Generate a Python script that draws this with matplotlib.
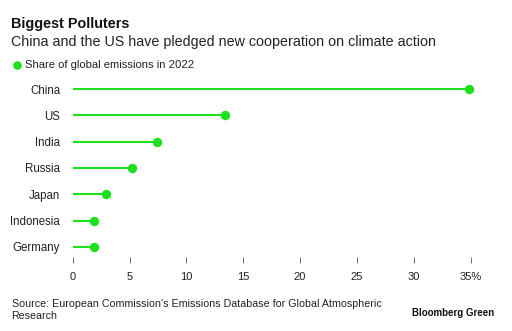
import matplotlib
matplotlib.use("Agg")
import matplotlib.pyplot as plt

# share of global emissions, 2022 (%)
countries = ["China", "US", "India", "Russia", "Japan", "Indonesia", "Germany"]
share = [34.9, 13.4, 7.4, 5.25, 2.95, 1.9, 1.85]
xticks = [0, 5, 10, 15, 20, 25, 30, 35]
xticklabels = ["0", "5", "10", "15", "20", "25", "30", "35%"]

GREEN = "#1fe01f"
W, H = 512, 331

plt.rcParams["font.family"] = ["Liberation Sans", "DejaVu Sans"]

fig = plt.figure(figsize=(W / 100, H / 100), dpi=100)
fig.patch.set_facecolor("white")

# axes placed in pixel terms
left, right, top, bottom = 72.7, 470.5, 76.0, 256.5
ax = fig.add_axes([left / W, 1 - bottom / H, (right - left) / W, (bottom - top) / H])

ypos = list(range(len(countries)))
for y, v in zip(ypos, share):
    ax.plot([0, v], [y, y], color=GREEN, lw=1.5, solid_capstyle="butt", clip_on=False, zorder=2)
    ax.plot(v, y, "o", color=GREEN, ms=6.8, mec="none", clip_on=False, zorder=3)

ax.set_xlim(0, 35)
ax.set_ylim(6.37, -0.5)
ax.set_xticks(xticks)
ax.set_xticklabels(xticklabels, fontsize=8.0, color="#222222")
ax.set_yticks(ypos)
ax.set_yticklabels(countries, fontsize=8.3, color="#222222")
ax.tick_params(axis="x", direction="out", length=4.2, width=0.6, color="#555555", pad=7.2)
ax.tick_params(axis="y", length=0, pad=9.0)
for s in ax.spines.values():
    s.set_visible(False)

def fy(px):
    return 1 - px / H

fig.text(11 / W, fy(28), "Biggest Polluters", fontsize=10.4, fontweight="bold", va="baseline", color="#111111")
fig.text(11 / W, fy(46), "China and the US have pledged new cooperation on climate action",
         fontsize=10.3, va="baseline", color="#222222")
fig.lines.append(plt.Line2D([16.7 / W], [fy(65)], marker="o", ms=6.2, color=GREEN, mec="none",
                            transform=fig.transFigure))
fig.text(25 / W, fy(68.3), "Share of global emissions in 2022", fontsize=8.1, va="baseline", color="#222222")

fig.text(11.5 / W, fy(307), "Source: European Commission's Emissions Database for Global Atmospheric",
         fontsize=7.7, va="baseline", color="#222222")
fig.text(11.5 / W, fy(319), "Research", fontsize=7.7, va="baseline", color="#222222")
fig.text(494 / W, fy(315.5), "Bloomberg Green", fontsize=7.0, fontweight="bold", ha="right",
         va="baseline", color="#111111")

fig.savefig("out.png", dpi=100)
